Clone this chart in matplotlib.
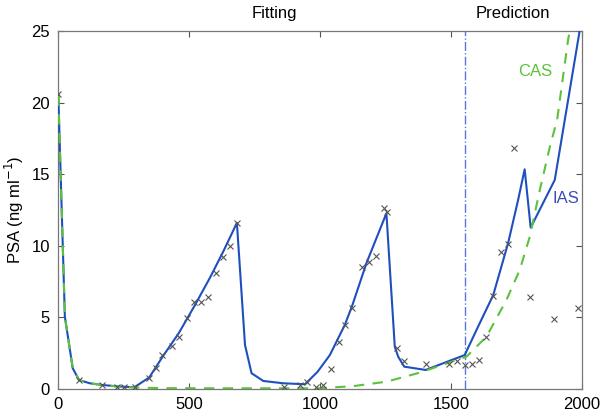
import matplotlib
matplotlib.use("Agg")
import matplotlib.pyplot as plt

plt.rcParams['font.family'] = ['Liberation Sans', 'DejaVu Sans']

# Observed PSA data (crosses)
obs_t = [0, 79, 168, 225, 252, 293, 347, 374, 396, 435, 462, 490, 517, 545, 573,
         602, 630, 655, 682, 863, 922, 951, 984, 1010, 1040, 1071, 1094, 1122,
         1159, 1187, 1215, 1244, 1257, 1292, 1321, 1403, 1492, 1521, 1552, 1578,
         1607, 1635, 1662, 1690, 1718, 1741, 1803, 1893, 1985]
obs_psa = [20.6, 0.63, 0.28, 0.16, 0.16, 0.16, 0.75, 1.44, 2.35, 3.03, 3.66, 4.98,
           6.10, 6.08, 6.45, 8.08, 9.2, 10.0, 11.57, 0.16, 0.28, 0.47, 0.16, 0.28,
           1.37, 3.28, 4.47, 5.68, 8.5, 8.87, 9.29, 12.62, 12.38, 2.89, 1.96, 1.75,
           1.75, 1.96, 1.68, 1.75, 2.0, 3.65, 6.5, 9.6, 10.1, 16.8, 6.45, 4.89, 5.68]

# IAS model
ias_t = [0, 25, 55, 79, 120, 168, 230, 290, 347, 400, 460, 520, 580, 630, 682,
         713, 738, 783, 859, 942, 990, 1037, 1094, 1122, 1177, 1253, 1285, 1298,
         1321, 1403, 1552, 1603, 1661, 1718, 1756, 1781, 1804, 1896, 2000]
ias_psa = [20.5, 5.05, 1.45, 0.63, 0.4, 0.28, 0.18, 0.12, 0.8, 2.3, 3.9, 5.8, 7.8,
           9.6, 11.6, 3.07, 1.1, 0.56, 0.4, 0.33, 1.2, 2.37, 4.47, 5.8, 8.8, 12.27,
           2.95, 2.26, 1.56, 1.33, 2.37, 4.35, 6.56, 10.2, 13.2, 15.34, 11.27, 14.6,
           26.0]

# CAS model
cas_t = [0, 25, 55, 79, 120, 168, 230, 300, 400, 600, 800, 1000, 1126, 1253,
         1380, 1495, 1559, 1635, 1711, 1762, 1800, 1839, 1877, 1905, 1947, 1990]
cas_psa = [20.5, 5.05, 1.45, 0.63, 0.4, 0.28, 0.16, 0.1, 0.06, 0.05, 0.05, 0.05,
           0.2, 0.51, 1.14, 1.86, 2.26, 3.65, 6.2, 8.3, 10.6, 13.9, 16.9, 18.8,
           24.4, 28.5]

split_t = 1555

fig = plt.figure(figsize=(6, 4.16), dpi=100)
ax = fig.add_axes([0.0972, 0.0649, 0.8728, 0.8606])

ax.plot(ias_t, ias_psa, color='#1f4fbf', lw=1.5, zorder=3)
ax.plot(cas_t, cas_psa, color='#5cc23c', lw=1.5, ls=(0, (5, 4)), zorder=4)
ax.plot(obs_t, obs_psa, ls='none', marker='x', ms=5, mew=0.8, color='#555555', zorder=5)
ax.axvline(split_t, color='#5a78d8', lw=1.0, ls='-.', zorder=2)

ax.set_xlim(0, 2000)
ax.set_ylim(0, 25)
ax.set_xticks([0, 500, 1000, 1500, 2000])
ax.set_yticks([0, 5, 10, 15, 20, 25])
ax.tick_params(direction='in', length=4, width=0.8, color='#555555',
               top=True, right=True, labelsize=12, pad=6)
for s in ax.spines.values():
    s.set_color('#777777')
    s.set_linewidth(0.9)

ax.set_ylabel('PSA (ng ml$^{-1}$)', fontsize=12, labelpad=4)

ax.text(825, 25.7, 'Fitting', ha='center', va='bottom', fontsize=12)
ax.text(1737, 25.7, 'Prediction', ha='center', va='bottom', fontsize=12)
ax.text(1820, 22.2, 'CAS', ha='center', va='center', fontsize=12, color='#5cc23c')
ax.text(1940, 13.3, 'IAS', ha='center', va='center', fontsize=12, color='#3a4db5')

fig.savefig('out.png', dpi=100)
